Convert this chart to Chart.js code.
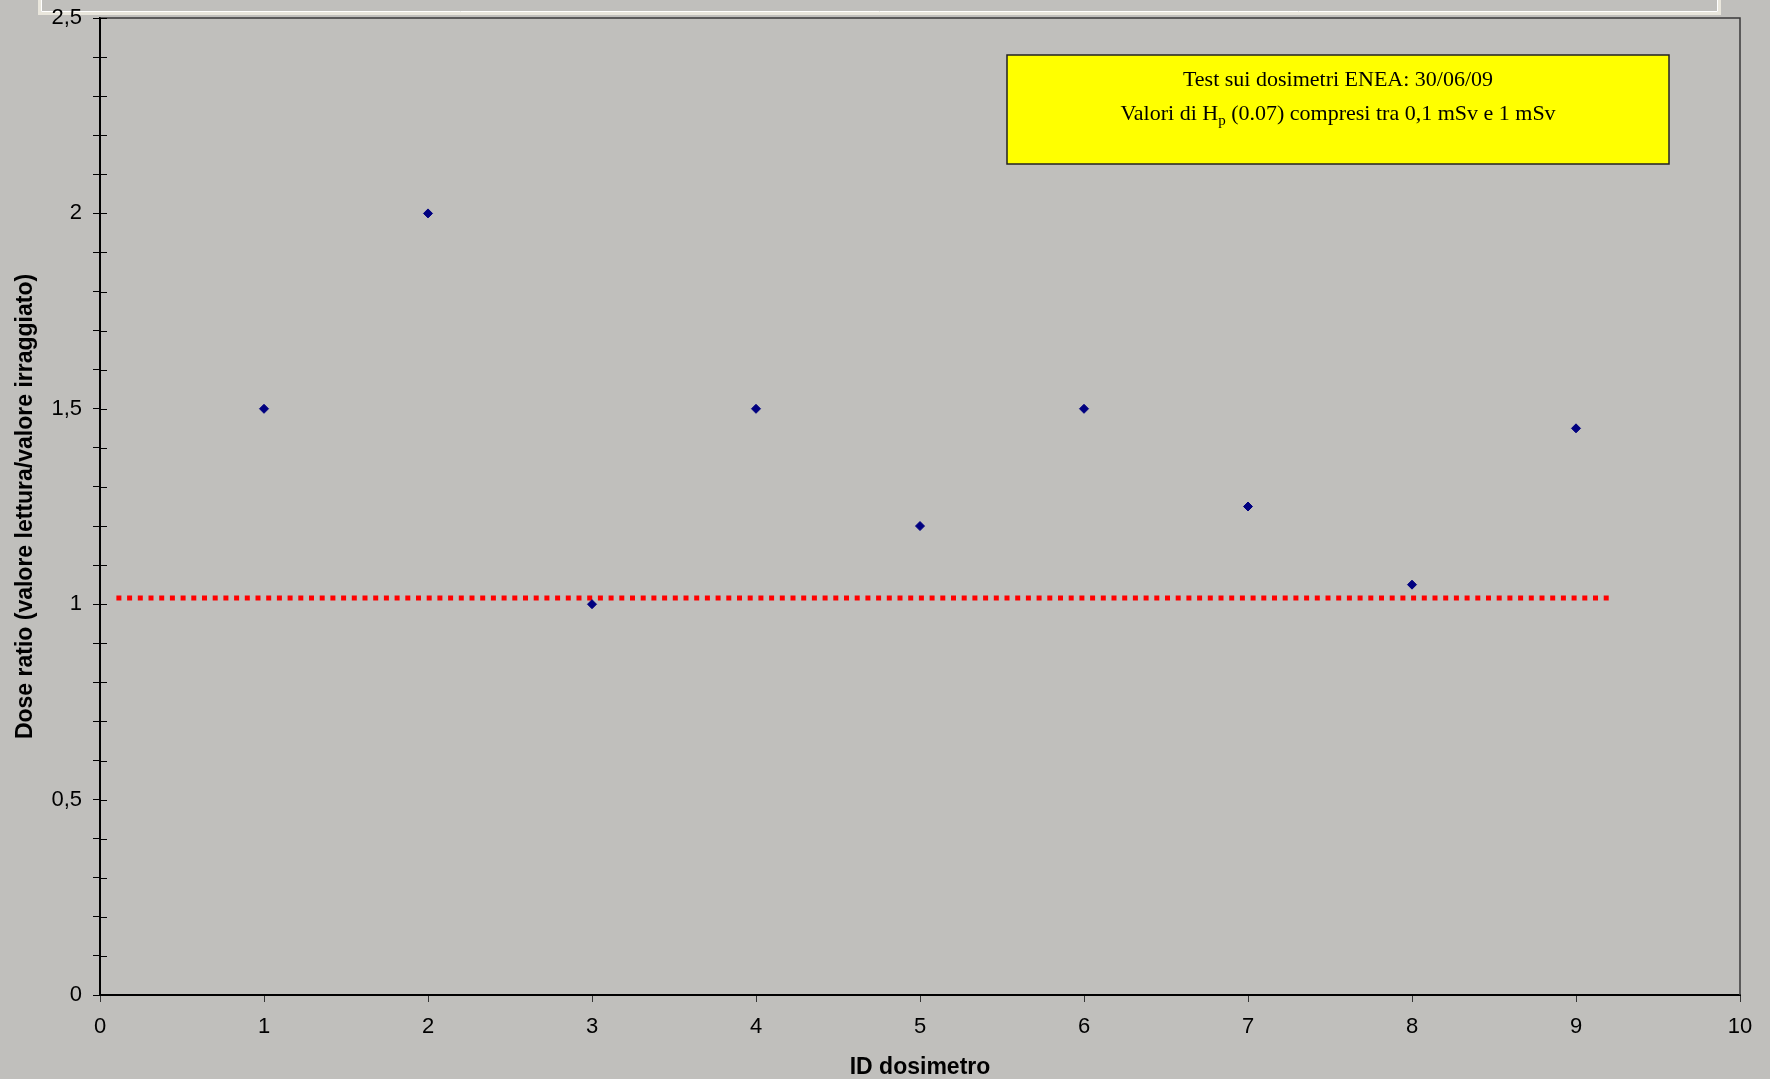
<!DOCTYPE html>
<html>
<head>
<meta charset="utf-8">
<title>Dose ratio</title>
<script src="https://cdn.jsdelivr.net/npm/chart.js@4.4.1/dist/chart.umd.min.js"></script>
<style>
  html, body { margin: 0; padding: 0; background: #c0bfbc; }
  #chart { display: block; }
</style>
</head>
<body>
<canvas id="chart" width="1770" height="1079"></canvas>
<script>
// Data
var ids = [1, 2, 3, 4, 5, 6, 7, 8, 9];
var ratios = [1.5, 2.0, 1.0, 1.5, 1.2, 1.5, 1.25, 1.05, 1.45];

// red dotted reference line
var refX = [0.1, 9.22];
var refY = [1.016, 1.016];

var xTicks = [0, 1, 2, 3, 4, 5, 6, 7, 8, 9, 10];
var yLabels = ["0", "0,5", "1", "1,5", "2", "2,5"];

var boxLine1 = "Test sui dosimetri ENEA: 30/06/09";
var boxLine2a = "Valori di H";
var boxLine2sub = "p";
var boxLine2b = " (0.07) compresi tra 0,1 mSv e 1 mSv";

var GRAY = "#c0bfbc";

var points = ids.map(function (x, i) { return {x: x, y: ratios[i]}; });
var refLine = refX.map(function (x, i) { return {x: x, y: refY[i]}; });

// background, frame of the (cut off) title box, and the plot border
var decorations = {
    id: "decorations",
    beforeDraw: function (chart) {
        var ctx = chart.ctx;
        ctx.save();
        ctx.fillStyle = GRAY;
        ctx.fillRect(0, 0, chart.width, chart.height);

        // top title frame, only its lower edge is visible
        ctx.strokeStyle = "#e9e6dc";
        ctx.lineWidth = 3;
        ctx.beginPath();
        ctx.moveTo(39.5, 0);
        ctx.lineTo(39.5, 13.5);
        ctx.lineTo(1719.5, 13.5);
        ctx.lineTo(1719.5, 0);
        ctx.stroke();
        ctx.strokeStyle = "#ffffff";
        ctx.lineWidth = 1;
        ctx.beginPath();
        ctx.moveTo(41.5, 0);
        ctx.lineTo(41.5, 11.5);
        ctx.lineTo(1717.5, 11.5);
        ctx.lineTo(1717.5, 0);
        ctx.stroke();
        ctx.restore();
    },
    afterDraw: function (chart) {
        var ctx = chart.ctx;
        var a = chart.chartArea;
        var y = chart.scales.y;
        ctx.save();

        // plot area top and right border
        ctx.strokeStyle = "#3a3a3a";
        ctx.lineWidth = 1.5;
        ctx.beginPath();
        ctx.moveTo(a.left, a.top);
        ctx.lineTo(a.right, a.top);
        ctx.lineTo(a.right, a.bottom);
        ctx.stroke();

        // y ticks cross the axis: inner half
        ctx.strokeStyle = "#000";
        ctx.lineWidth = 1;
        y.ticks.forEach(function (t) {
            var py = Math.round(y.getPixelForValue(t.value)) + 0.5;
            ctx.beginPath();
            ctx.moveTo(a.left, py);
            ctx.lineTo(a.left + 7, py);
            ctx.stroke();
        });

        // yellow text box
        var bx = 1007, by = 55, bw = 662, bh = 109;
        ctx.fillStyle = "#ffff00";
        ctx.fillRect(bx, by, bw, bh);
        ctx.strokeStyle = "#222";
        ctx.lineWidth = 1.5;
        ctx.strokeRect(bx, by, bw, bh);

        var cx = bx + bw / 2;
        ctx.fillStyle = "#000";
        ctx.textBaseline = "alphabetic";
        ctx.font = "22px 'Liberation Serif', 'Times New Roman', serif";
        ctx.textAlign = "center";
        ctx.fillText(boxLine1, cx, 86);

        ctx.textAlign = "left";
        var mainFont = "22px 'Liberation Serif', 'Times New Roman', serif";
        var subFont = "15px 'Liberation Serif', 'Times New Roman', serif";
        ctx.font = mainFont;
        var w1 = ctx.measureText(boxLine2a).width;
        var w3 = ctx.measureText(boxLine2b).width;
        ctx.font = subFont;
        var w2 = ctx.measureText(boxLine2sub).width;
        var sx = cx - (w1 + w2 + w3) / 2;
        ctx.font = mainFont;
        ctx.fillText(boxLine2a, sx, 120);
        ctx.font = subFont;
        ctx.fillText(boxLine2sub, sx + w1, 125);
        ctx.font = mainFont;
        ctx.fillText(boxLine2b, sx + w1 + w2, 120);

        ctx.restore();
    }
};

var tickFont = {family: "'Liberation Sans', Arial, sans-serif", size: 22};
var titleFont = {family: "'Liberation Sans', Arial, sans-serif", size: 23, weight: "bold", lineHeight: 1};

var chart = new Chart(document.getElementById("chart").getContext("2d"), {
    type: "scatter",
    data: {
        datasets: [{
            label: "Dose ratio",
            data: points,
            pointStyle: "rectRot",
            pointRadius: 4.5,
            pointBorderWidth: 1,
            backgroundColor: "#000080",
            borderColor: "#000080",
            showLine: false,
            order: 1
        }, {
            label: "riferimento",
            type: "line",
            data: refLine,
            borderColor: "#ff0000",
            borderWidth: 5,
            borderDash: [5, 5.7],
            borderCapStyle: "butt",
            pointRadius: 0,
            fill: false,
            order: 2
        }]
    },
    options: {
        responsive: false,
        animation: false,
        layout: {padding: {top: 18, right: 30, left: 0, bottom: 0}},
        plugins: {
            legend: {display: false},
            tooltip: {enabled: false}
        },
        scales: {
            x: {
                type: "linear",
                min: 0,
                max: 10,
                afterFit: function (s) {
                    s.height = 84;
                    s.paddingLeft = 0;
                    s.paddingRight = 0;
                },
                afterBuildTicks: function (s) {
                    s.ticks = xTicks.map(function (v) { return {value: v}; });
                },
                ticks: {
                    color: "#000",
                    font: tickFont,
                    padding: 12,
                    callback: function (v) { return String(v); }
                },
                grid: {
                    drawOnChartArea: false,
                    drawTicks: true,
                    tickLength: 7,
                    color: "#000",
                    tickColor: "#333"
                },
                border: {color: "#000", width: 2},
                title: {
                    display: true,
                    text: "ID dosimetro",
                    color: "#000",
                    font: titleFont,
                    padding: {top: 0, bottom: 0}
                }
            },
            y: {
                type: "linear",
                min: 0,
                max: 2.5,
                afterFit: function (s) {
                    s.width = 100;
                    s.paddingTop = 0;
                    s.paddingBottom = 0;
                },
                ticks: {
                    stepSize: 0.1,
                    autoSkip: false,
                    color: "#000",
                    font: tickFont,
                    padding: 11,
                    callback: function (v) {
                        var k = Math.round(v * 2);
                        if (Math.abs(v * 2 - k) > 1e-6) return "";
                        return yLabels[k];
                    }
                },
                grid: {
                    drawOnChartArea: false,
                    drawTicks: true,
                    tickLength: 7,
                    color: "#000",
                    tickColor: "#000"
                },
                border: {color: "#000", width: 2},
                title: {
                    display: true,
                    text: "Dose ratio (valore lettura/valore irraggiato)",
                    color: "#000",
                    font: titleFont,
                    padding: {top: 14, bottom: 0}
                }
            }
        }
    },
    plugins: [decorations]
});
</script>
</body>
</html>
